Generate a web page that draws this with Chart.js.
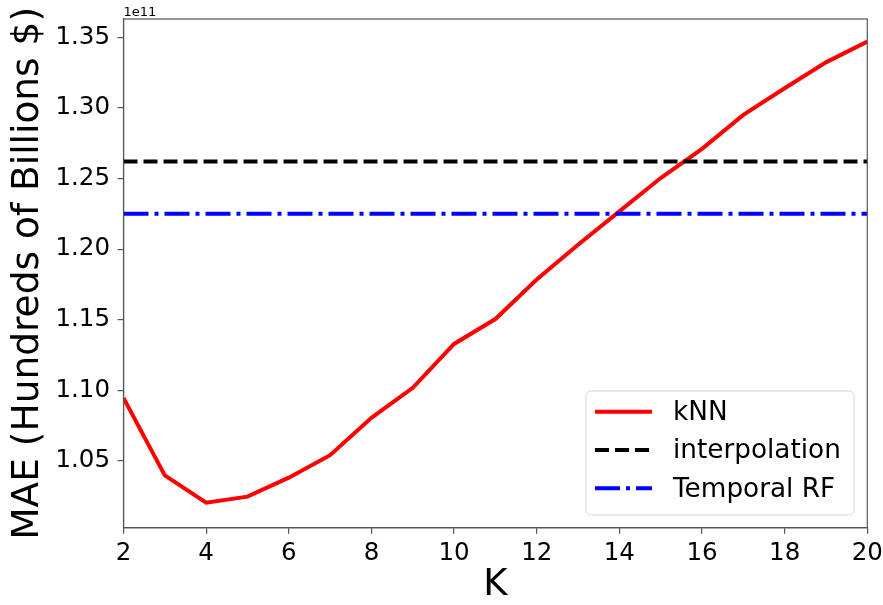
<!DOCTYPE html>
<html>
<head>
<meta charset="utf-8">
<script src="https://cdn.jsdelivr.net/npm/chart.js@4.4.1/dist/chart.umd.min.js"></script>
<style>
  html, body { margin: 0; padding: 0; background: #ffffff; }
  #wrap { width: 883px; height: 605px; }
</style>
</head>
<body>
<div id="wrap"><canvas id="c" width="883" height="605"></canvas></div>
<script>
// ---- data (values in units of 1e11 $) ----
const kValues = [2, 3, 4, 5, 6, 7, 8, 9, 10, 11, 12, 13, 14, 15, 16, 17, 18, 19, 20];
const knnMAE = [1.0947, 1.0398, 1.0205, 1.0248, 1.0382, 1.0541, 1.0806, 1.1018, 1.1329, 1.1505,
                1.1785, 1.2031, 1.2267, 1.2503, 1.2710, 1.2950, 1.3139, 1.3322, 1.3469];
const interpolationMAE = 1.2620;
const temporalRFMAE = 1.2250;
const xTicks = [2, 4, 6, 8, 10, 12, 14, 16, 18, 20];
const yTicks = [1.05, 1.10, 1.15, 1.20, 1.25, 1.30, 1.35];
const yMin = 1.0028, yMax = 1.3629;
const offsetText = '1e11';

Chart.defaults.font.family = "'DejaVu Sans', sans-serif";
Chart.defaults.color = '#000000';

const spineColor = '#555555';

const framePlugin = {
  id: 'frameAndLegend',
  afterDraw(chart) {
    const ctx = chart.ctx;
    const a = chart.chartArea;
    ctx.save();
    // spines
    ctx.strokeStyle = spineColor;
    ctx.lineWidth = 1.2;
    ctx.strokeRect(a.left, a.top, a.right - a.left, a.bottom - a.top);
    // offset text
    ctx.fillStyle = '#000';
    ctx.font = "13px 'DejaVu Sans'";
    ctx.textBaseline = 'alphabetic';
    ctx.textAlign = 'left';
    ctx.fillText(offsetText, a.left, a.top - 3.5);
    // legend
    const bw = 268, bh = 124;
    const bx = a.right - 13.3 - bw, by = a.bottom - 12.7 - bh;
    const r = 5;
    ctx.beginPath();
    ctx.moveTo(bx + r, by);
    ctx.lineTo(bx + bw - r, by);
    ctx.arcTo(bx + bw, by, bx + bw, by + r, r);
    ctx.lineTo(bx + bw, by + bh - r);
    ctx.arcTo(bx + bw, by + bh, bx + bw - r, by + bh, r);
    ctx.lineTo(bx + r, by + bh);
    ctx.arcTo(bx, by + bh, bx, by + bh - r, r);
    ctx.lineTo(bx, by + r);
    ctx.arcTo(bx, by, bx + r, by, r);
    ctx.closePath();
    ctx.fillStyle = 'rgba(255,255,255,0.8)';
    ctx.fill();
    ctx.strokeStyle = '#d6d6d6';
    ctx.lineWidth = 1;
    ctx.stroke();
    const rowY = [by + 20.7, by + 59, by + 97.3];
    chart.data.datasets.forEach((ds, i) => {
      const y = rowY[i];
      ctx.beginPath();
      ctx.setLineDash(ds.borderDash || []);
      ctx.lineDashOffset = 0;
      ctx.strokeStyle = ds.borderColor;
      ctx.lineWidth = ds.borderWidth;
      ctx.lineCap = 'butt';
      ctx.moveTo(bx + 9, y);
      ctx.lineTo(bx + 66, y);
      ctx.stroke();
      ctx.setLineDash([]);
      ctx.fillStyle = '#000';
      ctx.font = "26.3px 'DejaVu Sans'";
      ctx.textBaseline = 'middle';
      ctx.textAlign = 'left';
      ctx.fillText(ds.label, bx + 87, y + 1.5);
    });
    ctx.restore();
  }
};

new Chart(document.getElementById('c'), {
  type: 'line',
  data: {
    datasets: [
      {
        label: 'kNN',
        data: kValues.map((k, i) => ({ x: k, y: knnMAE[i] })),
        borderColor: '#ff0000',
        borderWidth: 4,
        pointRadius: 0,
        tension: 0,
        fill: false,
        order: 3
      },
      {
        label: 'interpolation',
        data: [{ x: kValues[0], y: interpolationMAE }, { x: kValues[kValues.length - 1], y: interpolationMAE }],
        borderColor: '#000000',
        borderWidth: 4,
        borderDash: [14, 6],
        pointRadius: 0,
        fill: false,
        order: 2
      },
      {
        label: 'Temporal RF',
        data: [{ x: kValues[0], y: temporalRFMAE }, { x: kValues[kValues.length - 1], y: temporalRFMAE }],
        borderColor: '#0000ff',
        borderWidth: 4,
        borderDash: [25, 6, 4, 6],
        pointRadius: 0,
        fill: false,
        order: 1
      }
    ]
  },
  options: {
    responsive: false,
    animation: false,
    devicePixelRatio: 1,
    layout: { padding: { top: 19, right: 15.7, left: 0, bottom: 0 } },
    plugins: {
      legend: { display: false },
      tooltip: { enabled: false }
    },
    scales: {
      x: {
        type: 'linear',
        min: 2,
        max: 20,
        afterBuildTicks(scale) { scale.ticks = xTicks.map(v => ({ value: v })); },
        afterFit(scale) { scale.height = 77.3; scale.paddingLeft = 0; scale.paddingRight = 0; },
        grid: { drawOnChartArea: false, drawTicks: true, tickLength: 6, color: spineColor, lineWidth: 1.2 },
        border: { display: true, color: spineColor, width: 1.2 },
        ticks: {
          font: { size: 24.5 },
          color: '#000',
          padding: 5,
          maxRotation: 0,
          autoSkip: false,
          callback: v => String(v)
        },
        title: {
          display: true,
          text: 'K',
          font: { size: 37, lineHeight: 1.06 },
          color: '#000',
          padding: { top: 0, bottom: 0 }
        }
      },
      y: {
        type: 'linear',
        min: yMin,
        max: yMax,
        afterBuildTicks(scale) { scale.ticks = yTicks.map(v => ({ value: v })); },
        afterFit(scale) { scale.width = 123.5; scale.paddingTop = 0; scale.paddingBottom = 0; },
        grid: { drawOnChartArea: false, drawTicks: true, tickLength: 6, color: spineColor, lineWidth: 1.2 },
        border: { display: true, color: spineColor, width: 1.2 },
        ticks: {
          font: { size: 24.5 },
          color: '#000',
          padding: 7.5,
          autoSkip: false,
          callback: v => v.toFixed(2)
        },
        title: {
          display: true,
          text: 'MAE (Hundreds of Billions $)',
          font: { size: 37.5, lineHeight: 1.2 },
          color: '#000',
          padding: { top: 5.4, bottom: 0 }
        }
      }
    }
  },
  plugins: [framePlugin]
});
</script>
</body>
</html>
